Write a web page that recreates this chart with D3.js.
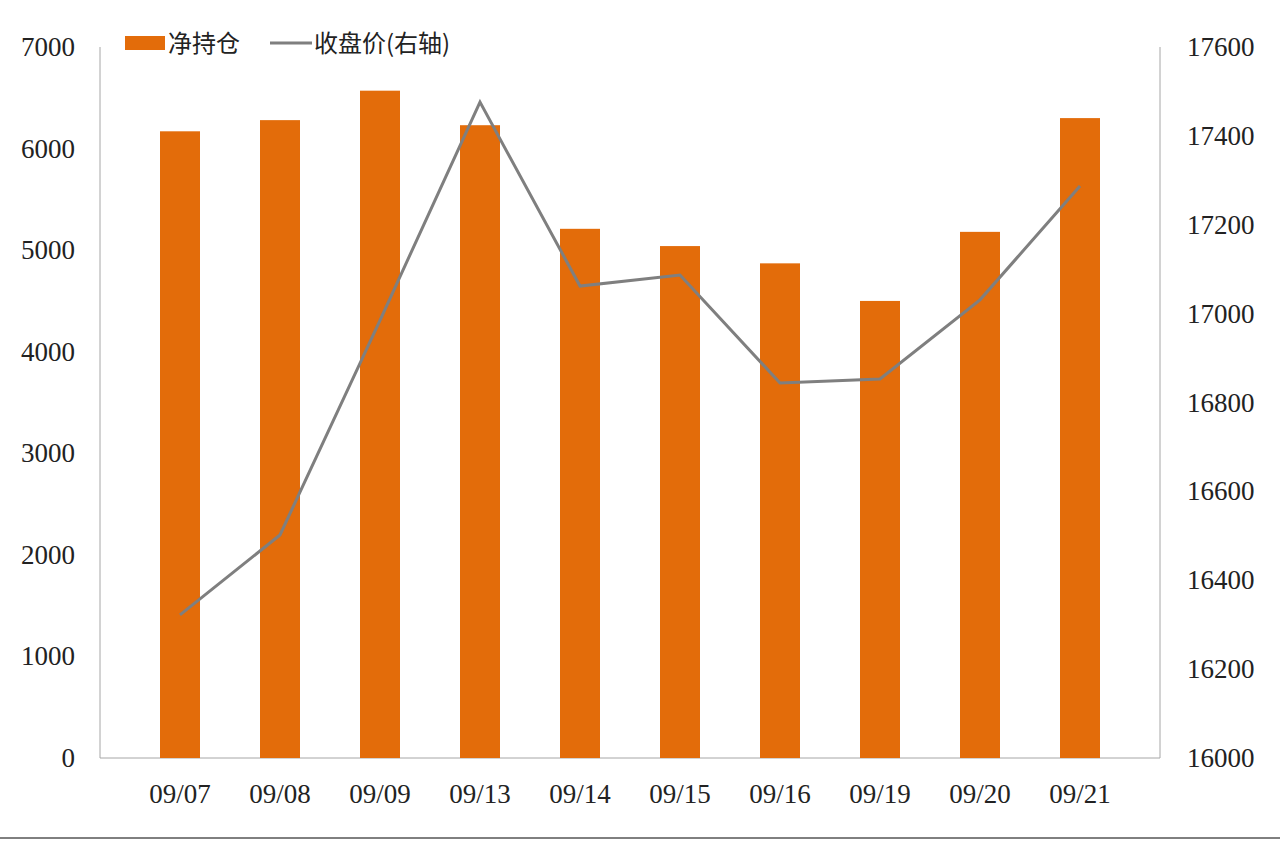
<!DOCTYPE html>
<html><head><meta charset="utf-8">
<script src="https://cdn.jsdelivr.net/npm/d3@7"></script>
<style>body{margin:0;background:#fff}svg{display:block}</style>
</head><body>
<script>
const dates = ['09/07','09/08','09/09','09/13','09/14','09/15','09/16','09/19','09/20','09/21'];
const netPos = [6170, 6280, 6570, 6230, 5210, 5040, 4870, 4500, 5180, 6300];
const close = [16322, 16502, 16985, 17476, 17062, 17087, 16844, 16853, 17031, 17287];
const leftTicks = [0,1000,2000,3000,4000,5000,6000,7000];
const rightTicks = [16000,16200,16400,16600,16800,17000,17200,17400,17600];

const W = 1280, H = 841;
const mLeft = 100, mRight = 1160, mTop = 47, mBottom = 758;
const font = '"Liberation Serif", "DejaVu Serif", serif';
const cjk = '"Noto Sans CJK SC", sans-serif';

const svg = d3.select('body').append('svg').attr('width', W).attr('height', H);

const x = d3.scaleBand().domain(dates).range([mLeft, mRight]).padding(0.6);
const y = d3.scaleLinear().domain([0, 7000]).range([mBottom, mTop]);
const y2 = d3.scaleLinear().domain([16000, 17600]).range([mBottom, mTop]);

// axes lines
svg.append('line').attr('x1', mLeft).attr('x2', mLeft).attr('y1', mTop).attr('y2', mBottom).attr('stroke', '#a6a6a6');
svg.append('line').attr('x1', mRight).attr('x2', mRight).attr('y1', mTop).attr('y2', mBottom).attr('stroke', '#a6a6a6');
svg.append('line').attr('x1', mLeft).attr('x2', mRight).attr('y1', mBottom).attr('y2', mBottom).attr('stroke', '#a6a6a6');
svg.append('line').attr('x1', 0).attr('x2', W).attr('y1', 838).attr('y2', 838).attr('stroke', '#000');

svg.selectAll('.lt').data(leftTicks).join('text')
  .attr('x', 75).attr('y', d => y(d) + 9).attr('text-anchor', 'end')
  .attr('font-family', font).attr('font-size', 27).attr('fill', '#222').text(d => d);
svg.selectAll('.rt').data(rightTicks).join('text')
  .attr('x', 1187).attr('y', d => y2(d) + 9)
  .attr('font-family', font).attr('font-size', 27).attr('fill', '#222').text(d => d);
svg.selectAll('.xt').data(dates).join('text')
  .attr('x', d => x(d) + x.bandwidth() / 2).attr('y', 803).attr('text-anchor', 'middle')
  .attr('font-family', font).attr('font-size', 27).attr('fill', '#222').text(d => d);

svg.selectAll('.bar').data(netPos).join('rect')
  .attr('x', (d, i) => x(dates[i])).attr('width', x.bandwidth())
  .attr('y', d => y(d)).attr('height', d => mBottom - y(d)).attr('fill', '#e36c0a');

svg.append('path').datum(close)
  .attr('d', d3.line().x((d, i) => x(dates[i]) + x.bandwidth() / 2).y(d => y2(d)))
  .attr('fill', 'none').attr('stroke', '#7f7f7f').attr('stroke-width', 3);

// legend
svg.append('rect').attr('x', 125).attr('y', 36).attr('width', 40).attr('height', 14).attr('fill', '#e36c0a');
svg.append('text').attr('x', 168).attr('y', 52).attr('font-family', cjk).attr('font-size', 24).attr('fill', '#222').text('净持仓');
svg.append('line').attr('x1', 270).attr('x2', 312).attr('y1', 43).attr('y2', 43).attr('stroke', '#7f7f7f').attr('stroke-width', 3);
svg.append('text').attr('x', 314).attr('y', 52).attr('font-family', cjk).attr('font-size', 24).attr('fill', '#222').text('收盘价(右轴)');
</script>
</body></html>
